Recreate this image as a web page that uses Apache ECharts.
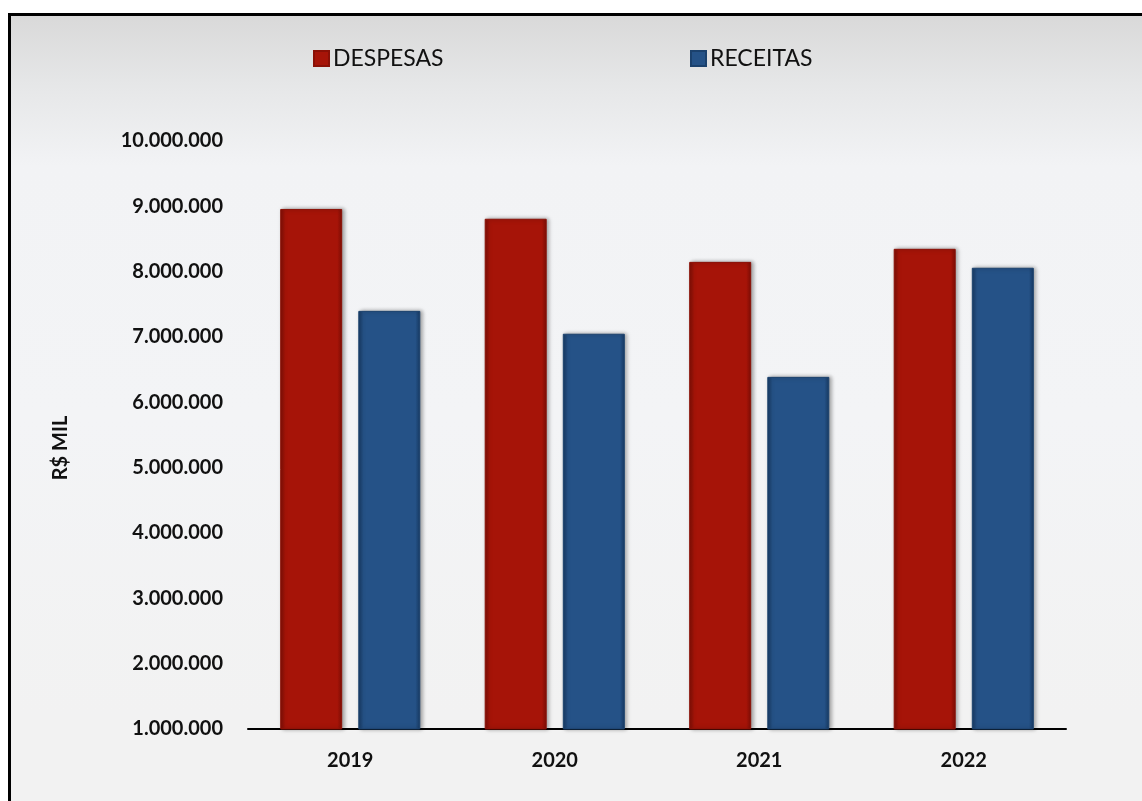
<!DOCTYPE html>
<html>
<head>
<meta charset="utf-8">
<script src="https://cdn.jsdelivr.net/npm/echarts@6/dist/echarts.min.js"></script>
<style>
html,body{margin:0;padding:0;width:1142px;height:801px;overflow:hidden;background:#ffffff;}
#frame{position:absolute;left:8px;top:13px;width:1200px;height:850px;border-left:3px solid #000;border-top:3px solid #000;
background:linear-gradient(to bottom,#d9d9d9 0px,#e6e7e8 70px,#f2f3f5 150px,#f3f4f6 400px,#f2f2f2 700px);}
#chart{position:absolute;left:0;top:0;width:1142px;height:801px;}
</style>
</head>
<body>
<div id="frame"></div>
<div id="chart"></div>
<script>
const categories = ['2019', '2020', '2021', '2022'];
const despesas = [8960000, 8810000, 8150000, 8350000];
const receitas = [7400000, 7050000, 6390000, 8060000];
const yTicks = [1000000, 10000000, 1000000]; // min, max, interval
const yTitle = 'R$ MIL';

function fmt(v){ return String(Math.round(v)).replace(/\B(?=(\d{3})+(?!\d))/g, '.'); }

function grad(dark, mid){
  return new echarts.graphic.LinearGradient(0,0,1,0,[
    {offset:0, color:dark},{offset:0.08, color:mid},{offset:0.92, color:mid},{offset:1, color:dark}
  ]);
}

const chart = echarts.init(document.getElementById('chart'), null, {renderer:'canvas'});
const font = 'Lato, "Open Sans", sans-serif';
chart.setOption({
  backgroundColor: 'transparent',
  animation: false,
  legend: [
    {data:['DESPESAS'], left: 308, top: 42, itemWidth: 15, itemHeight: 15, itemGap: 4,
     textStyle:{fontFamily: font, fontSize: 23, color:'#111', padding:[0,0,0,-1]}, icon:'rect'},
    {data:['RECEITAS'], left: 685, top: 42, itemWidth: 15, itemHeight: 15,
     textStyle:{fontFamily: font, fontSize: 23, color:'#111', padding:[0,0,0,-1]}, icon:'rect'}
  ],
  graphic: [{
    type:'text', x: 61, y: 448, rotation: Math.PI/2,
    style:{text: yTitle, fontFamily: font, fontWeight:'bold', fontSize: 20, fill:'#111', align:'center', verticalAlign:'middle'}
  }],
  grid: {left: 248, right: 76, top: 141, bottom: 72, containLabel:false},
  xAxis: {
    type:'category', data: categories,
    axisLine:{lineStyle:{color:'#000', width:2}},
    axisTick:{show:false},
    axisLabel:{fontFamily: font, fontWeight:'bold', fontSize:20, color:'#111', margin: 22}
  },
  yAxis: {
    type:'value', min: yTicks[0], max: yTicks[1], interval: yTicks[2],
    axisLine:{show:false}, axisTick:{show:false}, splitLine:{show:false},
    axisLabel:{fontFamily: font, fontWeight:'bold', fontSize:20, color:'#111', margin: 25, formatter: fmt}
  },
  series: [
    {name:'DESPESAS', type:'bar', data: despesas, barWidth: 62, barGap: '26%',
     itemStyle:{color: grad('#7d0e06','#a61408'), borderColor:'#8a1006', borderWidth:1,
       shadowColor:'rgba(0,0,0,0.35)', shadowBlur:4, shadowOffsetX:2, shadowOffsetY:0},
     emphasis:{disabled:true}},
    {name:'RECEITAS', type:'bar', data: receitas, barWidth: 62,
     itemStyle:{color: grad('#173a63','#255287'), borderColor:'#1b416d', borderWidth:1,
       shadowColor:'rgba(0,0,0,0.35)', shadowBlur:4, shadowOffsetX:2, shadowOffsetY:0},
     emphasis:{disabled:true}}
  ]
});
</script>
</body>
</html>
